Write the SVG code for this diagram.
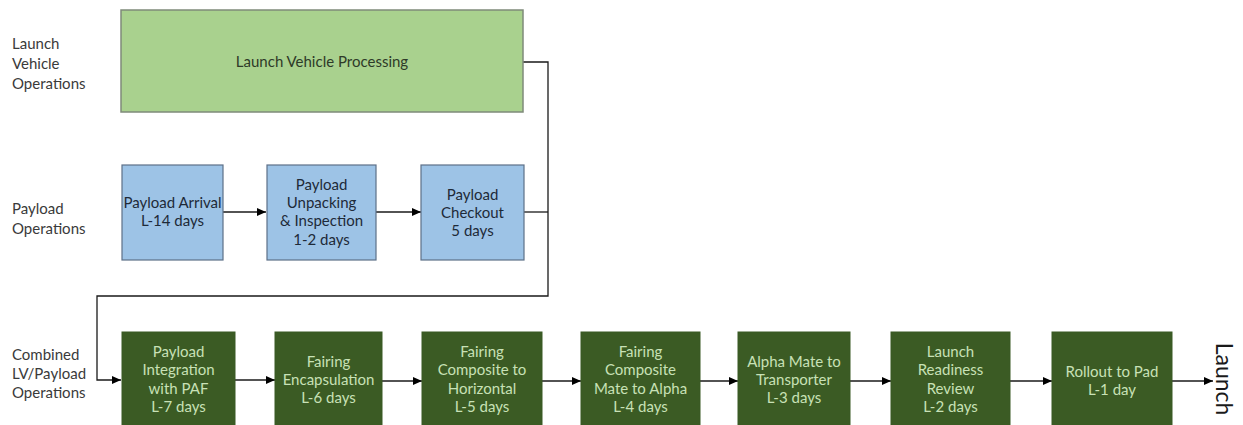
<svg xmlns="http://www.w3.org/2000/svg" width="1243" height="425" viewBox="0 0 1243 425">
<style>
text{font-family:Lato,"Liberation Sans",sans-serif;font-size:15px}
.lab{fill:#3a3a3a}
.lv rect{fill:#a9d18e;stroke:#7f8a7a;stroke-width:1.5}
.lv text{fill:#2e3a28;text-anchor:middle}
.pl rect{fill:#9dc3e6;stroke:#5d7088;stroke-width:1.2}
.pl text{fill:#1e2a38;text-anchor:middle}
.cb rect{fill:#3b5b24;stroke:#3b5b24}
.cb text{fill:#c8e1b6;text-anchor:middle}
.con{fill:none;stroke:#1a1a1a;stroke-width:1.3}
.arr{marker-end:url(#ah)}
</style>
<defs>
<marker id="ah" markerUnits="userSpaceOnUse" markerWidth="10" markerHeight="10" refX="9" refY="5" orient="auto">
<path d="M0,1 L9,5 L0,9 Z" fill="#000"/>
</marker>
</defs>
<rect width="1243" height="425" fill="#fff"/>
<g id="labels" class="lab">
<text x="12" y="49">Launch</text>
<text x="12" y="69">Vehicle</text>
<text x="12" y="89">Operations</text>
<text x="12" y="214">Payload</text>
<text x="12" y="234">Operations</text>
<text x="12" y="360">Combined</text>
<text x="12" y="379">LV/Payload</text>
<text x="12" y="398">Operations</text>
</g>
<g id="connectors">
<polyline class="con" points="523,62 548,62 548,296 97,296 97,380 121,380" style="marker-end:url(#ah)"/>
<line class="con" x1="524" y1="212" x2="548" y2="212"/>
<line class="con arr" x1="223" y1="212" x2="266" y2="212"/>
<line class="con arr" x1="376" y1="212" x2="421" y2="212"/>
<line class="con arr" x1="235" y1="380" x2="275" y2="380"/>
<line class="con arr" x1="382" y1="381" x2="422" y2="381"/>
<line class="con arr" x1="542" y1="381" x2="581" y2="381"/>
<line class="con arr" x1="700" y1="381" x2="738" y2="381"/>
<line class="con arr" x1="850" y1="381" x2="891" y2="381"/>
<line class="con arr" x1="1010" y1="381" x2="1052" y2="381"/>
<line class="con arr" x1="1172" y1="381" x2="1213" y2="381"/>
</g>
<g id="lv-processing" class="lv">
<rect x="121" y="10" width="402" height="102"/>
<text x="322" y="67">Launch Vehicle Processing</text>
</g>
<g id="payload-arrival" class="pl">
<rect x="122" y="165" width="101" height="95"/>
<text x="172.5" y="208">Payload Arrival</text>
<text x="172.5" y="226">L-14 days</text>
</g>
<g id="payload-unpacking" class="pl">
<rect x="267" y="165" width="109" height="95"/>
<text x="321.5" y="190">Payload</text>
<text x="321.5" y="208">Unpacking</text>
<text x="321.5" y="226">&amp; Inspection</text>
<text x="321.5" y="245">1-2 days</text>
</g>
<g id="payload-checkout" class="pl">
<rect x="421" y="165" width="103" height="95"/>
<text x="472.5" y="200">Payload</text>
<text x="472.5" y="218">Checkout</text>
<text x="472.5" y="236">5 days</text>
</g>
<g id="payload-integration" class="cb">
<rect x="122" y="332" width="113" height="100"/>
<text x="178.5" y="357">Payload</text>
<text x="178.5" y="375">Integration</text>
<text x="178.5" y="394">with PAF</text>
<text x="178.5" y="412">L-7 days</text>
</g>
<g id="fairing-encapsulation" class="cb">
<rect x="275" y="332" width="107" height="100"/>
<text x="328.5" y="367">Fairing</text>
<text x="328.5" y="385">Encapsulation</text>
<text x="328.5" y="403">L-6  days</text>
</g>
<g id="fairing-horizontal" class="cb">
<rect x="422" y="332" width="120" height="100"/>
<text x="482" y="357">Fairing</text>
<text x="482" y="375">Composite to</text>
<text x="482" y="394">Horizontal</text>
<text x="482" y="412">L-5 days</text>
</g>
<g id="fairing-mate" class="cb">
<rect x="581" y="332" width="119" height="100"/>
<text x="640.5" y="357">Fairing</text>
<text x="640.5" y="375">Composite</text>
<text x="640.5" y="394">Mate to Alpha</text>
<text x="640.5" y="412">L-4 days</text>
</g>
<g id="alpha-mate" class="cb">
<rect x="738" y="332" width="112" height="100"/>
<text x="794" y="367">Alpha Mate to</text>
<text x="794" y="385">Transporter</text>
<text x="794" y="403">L-3 days</text>
</g>
<g id="launch-readiness" class="cb">
<rect x="891" y="332" width="119" height="100"/>
<text x="950.5" y="357">Launch</text>
<text x="950.5" y="375">Readiness</text>
<text x="950.5" y="394">Review</text>
<text x="950.5" y="412">L-2 days</text>
</g>
<g id="rollout" class="cb">
<rect x="1052" y="332" width="120" height="100"/>
<text x="1112" y="377">Rollout to Pad</text>
<text x="1112" y="395">L-1 day</text>
</g>
<g id="launch">
<text x="0" y="0" transform="translate(1216,379) rotate(90)" style="font-size:23px;fill:#1a1a1a;text-anchor:middle">Launch</text>
</g>
</svg>
